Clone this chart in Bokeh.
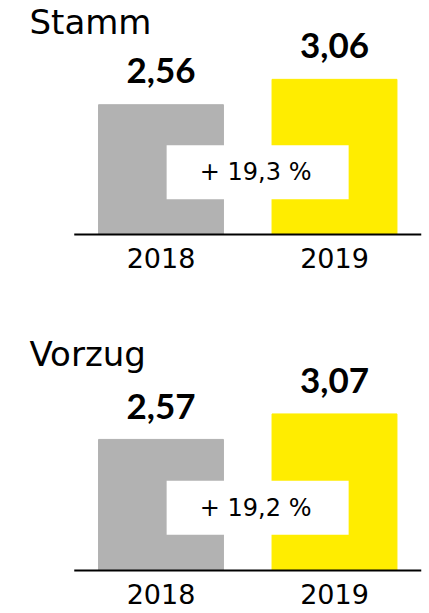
from bokeh.plotting import figure
from bokeh.models import Range1d, Label, ColumnDataSource
from bokeh.layouts import column
from bokeh.embed import file_html
from bokeh.resources import INLINE
from bokeh.core.properties import value

# ---- data ----
years = ["2018", "2019"]
stamm_values = [2.56, 3.06]
stamm_labels = ["2,56", "3,06"]
stamm_change = "+ 19,3 %"
vorzug_values = [2.57, 3.07]
vorzug_labels = ["2,57", "3,07"]
vorzug_change = "+ 19,2 %"
bar_colors = ["#b2b2b2", "#ffed00"]

REG_FONT = "DejaVu Sans"
BOLD_FONT = "Lato"

WIDTH = 429
FIRST_CENTER = 160.5   # px from left of the first category centre
STEP = 173.5           # px per category


def panel(title, values, labels, change, height, zero_from_top, px_per_unit, title_base, value_gap):
    xs = [int(y) for y in years]
    x_start = xs[0] - FIRST_CENTER / STEP
    x_end = x_start + WIDTH / STEP
    y_end = zero_from_top / px_per_unit
    y_start = -(height - zero_from_top) / px_per_unit
    p = figure(x_range=Range1d(x_start, x_end), y_range=Range1d(y_start, y_end),
               width=WIDTH, height=height,
               output_backend="svg", toolbar_location=None,
               x_axis_location=None, y_axis_location=None,
               min_border=0, min_border_left=0, min_border_right=0,
               min_border_top=0, min_border_bottom=0,
               outline_line_color=None, background_fill_color="white",
               border_fill_color="white")
    p.grid.grid_line_color = None

    src = ColumnDataSource(dict(x=xs, year=years, value=values, label=labels, color=bar_colors))
    p.vbar(x="x", top="value", bottom=0, width=0.72, color="color", source=src)

    # white box with change
    mid = (xs[0] + xs[1]) / 2 + 0.057
    p.rect(x=[mid], y=[1.23], width=182, height=54, width_units="screen", height_units="screen",
           fill_color="white", line_color=None)
    p.text(x=[mid], y=[1.23], text=[change], x_offset=-2, text_align="center",
           text_baseline="middle", text_font=value(REG_FONT), text_font_size="24px",
           text_color="#000000")

    # value labels
    p.text(x="x", y="value", text="label", source=src, text_align="center",
           text_baseline="alphabetic", y_offset=-value_gap, text_font=value(BOLD_FONT),
           text_font_style="bold", text_font_size="35px", text_color="#000000")

    # axis line spanning the category bands, and year labels
    p.segment(x0=[xs[0] - 0.5], x1=[xs[-1] + 0.5], y0=[0], y1=[0],
              line_color="#000000", line_width=2)
    p.text(x="x", y=0, text="year", source=src, text_align="center",
           text_baseline="alphabetic", y_offset=23, text_font=value(REG_FONT),
           text_font_size="27px", text_color="#000000")

    p.add_layout(Label(x=29, y=title_base, x_units="screen", y_units="screen", text=title,
                       text_font=REG_FONT, text_font_size="34px", text_color="#000000",
                       text_baseline="alphabetic", text_align="left"))
    return p


H1 = 318
H2 = 613 - H1
p1 = panel("Stamm", stamm_values, stamm_labels, stamm_change, H1, 234, 50.7, H1 - 33 + 12, 34)
p2 = panel("Vorzug", vorzug_values, vorzug_labels, vorzug_change, H2, 570 - H1, 51.0,
           613 - 365 + 12, 33)

layout = column(p1, p2, spacing=0)
open("out.html", "w").write(file_html(layout, INLINE))
